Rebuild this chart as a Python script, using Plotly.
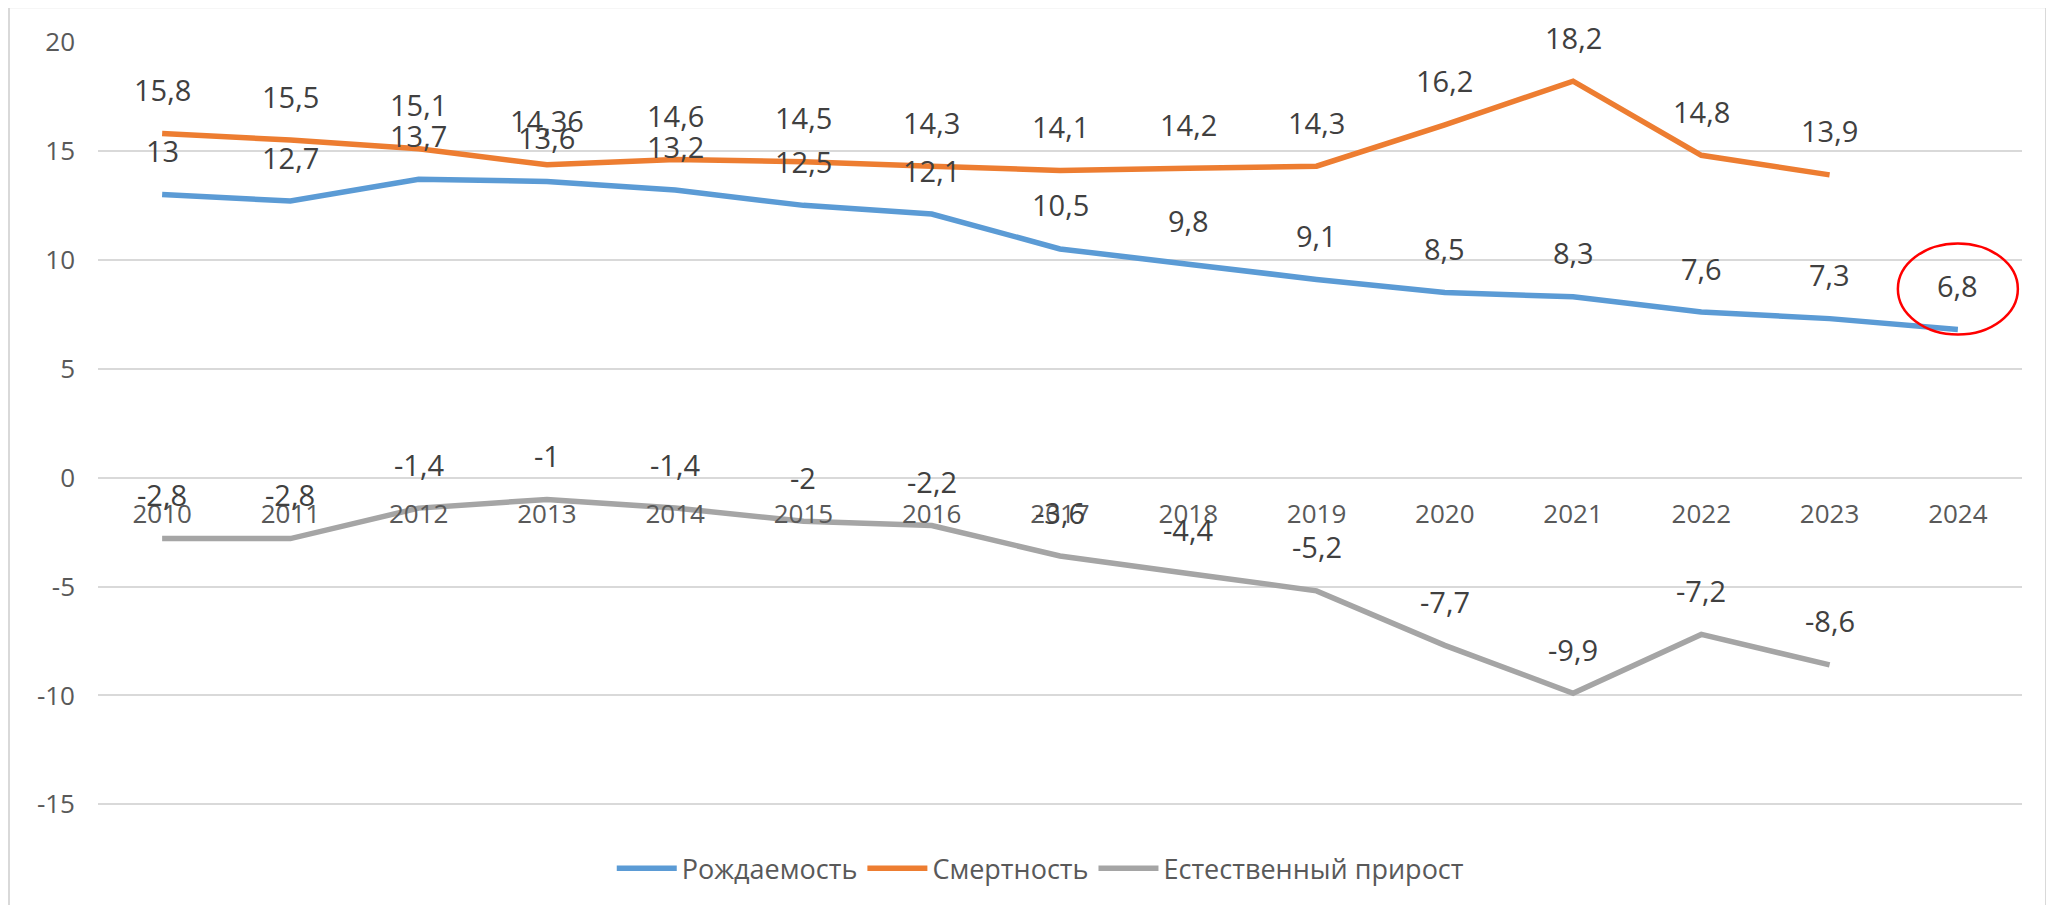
import plotly.graph_objects as go

# Рождаемость / смертность / естественный прирост, 2010-2024

years = ['2010', '2011', '2012', '2013', '2014', '2015', '2016', '2017',
         '2018', '2019', '2020', '2021', '2022', '2023', '2024']
rozhd = [13, 12.7, 13.7, 13.6, 13.2, 12.5, 12.1, 10.5, 9.8, 9.1, 8.5, 8.3, 7.6, 7.3, 6.8]
smert = [15.8, 15.5, 15.1, 14.36, 14.6, 14.5, 14.3, 14.1, 14.2, 14.3, 16.2, 18.2, 14.8, 13.9, None]
prirost = [-2.8, -2.8, -1.4, -1, -1.4, -2, -2.2, -3.6, -4.4, -5.2, -7.7, -9.9, -7.2, -8.6, None]

y_ticks = [-15, -10, -5, 0, 5, 10, 15, 20]
y_ticktext = ['-15', '-10', '-5', '0', '5', '10', '15', '20']

series = [
    ('Рождаемость', rozhd, '#5B9BD5'),
    ('Смертность', smert, '#ED7D31'),
    ('Естественный прирост', prirost, '#A5A5A5'),
]

FONT = 'Open Sans'
# body страницы имеет отступ 8px, поэтому фигура чуть меньше окна
W, H = 2038, 897
ML, MR, MT, MB = 90, 24, 34, 65
YMIN, YMAX = -16.5, 20


def fmt(v):
    return f'{v:g}'.replace('.', ',')


fig = go.Figure()
annots = []
for name, vals, col in series:
    fig.add_trace(go.Scatter(
        x=years, y=vals, name=name, mode='lines',
        line=dict(color=col, width=5.5),
        connectgaps=False, hoverinfo='x+y'
    ))
    for i, v in enumerate(vals):
        if v is None:
            continue
        annots.append(dict(x=i, y=v, xref='x', yref='y', text=fmt(v),
                           showarrow=False, yshift=44,
                           font=dict(family=FONT, size=29, color='#404040')))

pw = W - ML - MR
ph = H - MT - MB

shapes = [
    # рамка диаграммы
    dict(type='rect', xref='paper', yref='paper',
         x0=(1 - ML) / pw, x1=(W - ML) / pw,
         y0=(H - MB - 930) / ph, y1=(H - MB + 1) / ph,
         line=dict(color='#D9D9D9', width=2), fillcolor='rgba(0,0,0,0)', layer='below'),
    # красный овал вокруг 2024
    dict(type='circle', xref='x', yref='y',
         xsizemode='pixel', xanchor=len(years) - 1, x0=-60, x1=60,
         ysizemode='pixel', yanchor=rozhd[-1], y0=-5, y1=86,
         line=dict(color='#FF0000', width=2.5)),
]

fig.update_layout(
    width=W, height=H,
    margin=dict(l=ML, r=MR, t=MT, b=MB),
    paper_bgcolor='white', plot_bgcolor='white',
    font=dict(family=FONT, color='#595959'),
    showlegend=True,
    legend=dict(orientation='h', x=0.49, xanchor='center', y=-0.04, yanchor='middle',
                font=dict(family=FONT, size=27, color='#595959'),
                itemwidth=60, tracegroupgap=0),
    xaxis=dict(type='category', categoryorder='array', categoryarray=years,
               showgrid=False, zeroline=False, showline=False,
               anchor='free', position=(0 - YMIN) / (YMAX - YMIN),
               ticks='', ticklabelstandoff=18,
               tickfont=dict(family=FONT, size=26, color='#595959'),
               range=[-0.5, len(years) - 0.5]),
    yaxis=dict(range=[YMIN, YMAX], tickvals=y_ticks, ticktext=y_ticktext,
               showgrid=True, gridcolor='#D9D9D9', gridwidth=1.5,
               zeroline=False, showline=False, ticks='',
               ticklabelstandoff=22,
               tickfont=dict(family=FONT, size=26, color='#595959')),
    annotations=annots,
    shapes=shapes,
)

fig.write_html('out.html')
